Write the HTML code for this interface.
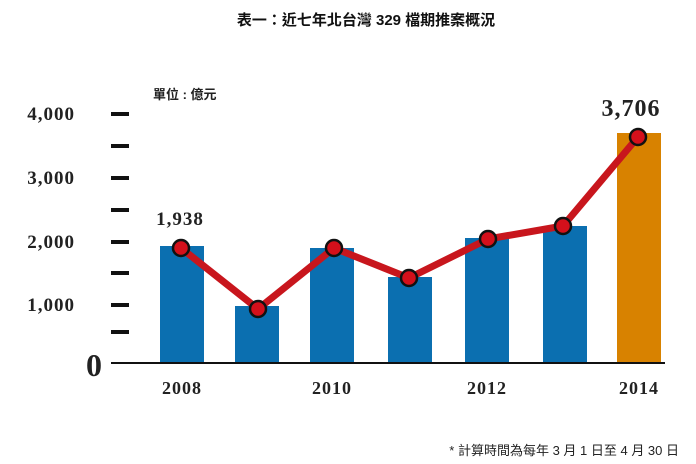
<!DOCTYPE html>
<html><head><meta charset="utf-8"><style>body{margin:0;background:#fff}svg{display:block}</style></head><body>
<svg width="696" height="464" viewBox="0 0 696 464" xmlns="http://www.w3.org/2000/svg">
<text x="366" y="25" text-anchor="middle" font-family="Liberation Sans, Noto Sans CJK TC, sans-serif" font-size="15" font-weight="bold" fill="#111">表一：近七年北台灣 329 檔期推案概況</text>
<text x="153" y="99" font-family="Liberation Sans, Noto Sans CJK TC, sans-serif" font-size="13" font-weight="bold" fill="#222">單位 : 億元</text>
<g font-family="Liberation Serif, serif" font-weight="bold" font-size="19" fill="#222" text-anchor="end" letter-spacing="1">
<text x="75" y="120">4,000</text><text x="75" y="184">3,000</text><text x="75" y="248">2,000</text><text x="75" y="311">1,000</text>
<text x="103" y="376" font-size="32">0</text></g>
<g stroke="#111" stroke-width="4">
<line x1="111" x2="129" y1="114" y2="114"/><line x1="111" x2="129" y1="146" y2="146"/><line x1="111" x2="129" y1="178" y2="178"/><line x1="111" x2="129" y1="210" y2="210"/><line x1="111" x2="129" y1="242" y2="242"/><line x1="111" x2="129" y1="273" y2="273"/><line x1="111" x2="129" y1="305" y2="305"/><line x1="111" x2="129" y1="332" y2="332"/></g>
<g fill="#0b6fb0">
<rect x="160" y="246" width="44" height="117"/><rect x="235" y="306" width="44" height="57"/><rect x="310" y="248" width="44" height="115"/><rect x="388" y="277" width="44" height="86"/><rect x="465" y="238" width="44" height="125"/><rect x="543" y="226" width="44" height="137"/></g>
<rect x="617" y="133" width="44" height="230" fill="#d88200"/>
<line x1="111" x2="665" y1="363" y2="363" stroke="#111" stroke-width="2"/>
<polyline points="181,248 258,309 334,248 409,278 488,239 563,226 638,137" fill="none" stroke="#c8161d" stroke-width="7" stroke-linejoin="round"/>
<g fill="#d4101b" stroke="#111" stroke-width="2.5">
<circle cx="181" cy="248" r="8"/><circle cx="258" cy="309" r="8"/><circle cx="334" cy="248" r="8"/><circle cx="409" cy="278" r="8"/><circle cx="488" cy="239" r="8"/><circle cx="563" cy="226" r="8"/><circle cx="638" cy="137" r="8"/></g>
<g font-family="Liberation Serif, serif" font-weight="bold" fill="#222" text-anchor="middle" letter-spacing="1">
<text x="180" y="225" font-size="19">1,938</text>
<text x="631" y="116" font-size="24">3,706</text>
<g font-size="18"><text x="182" y="394">2008</text><text x="332" y="394">2010</text><text x="487" y="394">2012</text><text x="639" y="394">2014</text></g></g>
<text x="679" y="455" text-anchor="end" font-family="Liberation Sans, Noto Sans CJK TC, sans-serif" font-size="13" fill="#222">* 計算時間為每年 3 月 1 日至 4 月 30 日</text>
</svg>
</body></html>
